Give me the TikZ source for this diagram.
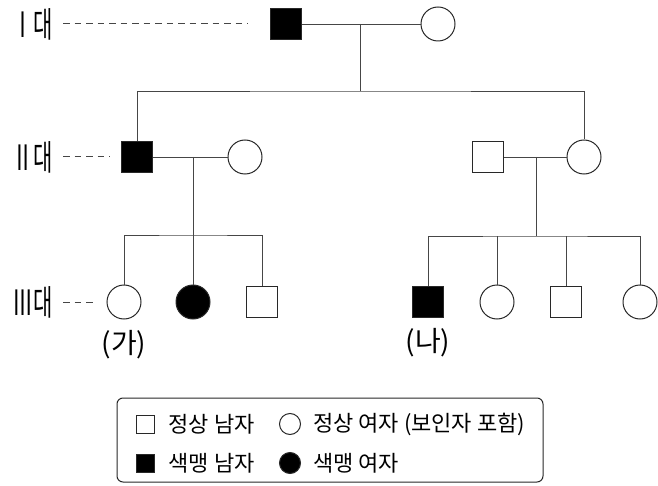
\documentclass[tikz,border=0pt]{standalone}
\usepackage{fontspec}
\usepackage{tikz}
\setmainfont{Noto Sans CJK KR}
\newfontfamily\genfont[FakeStretch=0.6]{Noto Sans CJK KR}
\usetikzlibrary{positioning, calc}
\definecolor{pedline}{RGB}{70,70,70}
\definecolor{symline}{RGB}{40,40,40}

\begin{document}
\begin{tikzpicture}[
    x=1pt, y=-1pt,
    male/.style={draw=symline, line width=1pt, rectangle, minimum size=31pt, inner sep=0pt},
    female/.style={draw=symline, line width=1pt, circle, minimum size=34pt, inner sep=0pt},
    affected/.style={fill=black},
    kin/.style={draw=pedline, line width=0.9pt},
    genlabel/.style={anchor=east, inner sep=0pt, font=\genfont\fontsize{35}{35}\selectfont},
    genline/.style={draw=pedline, line width=1pt, dash pattern=on 6.5pt off 5pt},
    tag/.style={font=\fontsize{28}{28}\selectfont},
    legtext/.style={anchor=west, inner sep=0pt, font=\fontsize{22}{22}\selectfont}
]
    \useasboundingbox (0,0) rectangle (658,486);

    % Generation I
    \node[male, affected] (i1) at (286,24) {};
    \node[female] (i2) at (438,24) {};

    % Generation II
    \node[male, affected] (ii1) at (137,157) {};
    \node[female] (ii2) at (245,157) {};
    \node[male] (ii3) at (488,157) {};
    \node[female] (ii4) at (584,157) {};

    % Generation III
    \node[female] (iii1) at (124,302) {};
    \node[female, affected] (iii2) at (193,302) {};
    \node[male] (iii3) at (262,302) {};
    \node[male, affected] (iii4) at (428,302) {};
    \node[female] (iii5) at (497,302) {};
    \node[male] (iii6) at (566,302) {};
    \node[female] (iii7) at (640,302) {};

    % Generation labels
    \node[genlabel] (g1) at (53,24) {Ⅰ대};
    \node[genlabel] (g2) at (53,157) {Ⅱ대};
    \node[genlabel] (g3) at (53,302) {Ⅲ대};
    \draw[genline, shorten <=10pt, shorten >=22pt] (g1) -- (i1);
    \draw[genline, shorten <=10pt, shorten >=11pt] (g2) -- (ii1);
    \draw[genline, shorten <=10pt, shorten >=10pt] (g3) -- (iii1);

    % Couples and sibships
    \coordinate (m1) at (360,24);
    \coordinate (s1) at (360,91);
    \draw[kin] (i1) -- (i2);
    \draw[kin] (m1) -- (s1);
    \draw[kin] (ii1.north) |- (s1) -| (ii4.north);

    \coordinate (m2) at (193,157);
    \coordinate (s2) at (193,235);
    \draw[kin] (ii1) -- (ii2);
    \draw[kin] (m2) -- (iii2.north);
    \draw[kin] (iii1.north) |- (s2) -| (iii3.north);

    \coordinate (m3) at (536,157);
    \coordinate (s3) at (536,236);
    \draw[kin] (ii3) -- (ii4);
    \draw[kin] (m3) -- (s3);
    \draw[kin] (iii4.north) |- (s3) -| (iii7.north);
    \draw[kin] (iii5.north) -- (iii5.north |- s3);
    \draw[kin] (iii6.north) -- (iii6.north |- s3);

    % Tags
    \node[tag, below=7pt of iii1] (ga) {(가)};
    \node[tag, below=7pt of iii4] (na) {(나)};

    % Legend
    \node[draw=symline, line width=1pt, rounded corners=6pt, minimum width=426pt, minimum height=84pt] (legend) at (330,440) {};
    \node[male, minimum size=18pt] (lm) at (145,424) {};
    \node[legtext, right=14pt of lm] (lmt) {정상 남자};
    \node[female, minimum size=21pt] (lf) at (290,424) {};
    \node[legtext, right=12pt of lf] (lft) {정상 여자 (보인자 포함)};
    \node[male, affected, minimum size=18pt] (lam) at (145,463) {};
    \node[legtext, right=14pt of lam] (lamt) {색맹 남자};
    \node[female, affected, minimum size=21pt] (laf) at (290,463) {};
    \node[legtext, right=12pt of laf] (laft) {색맹 여자};
\end{tikzpicture}
\end{document}
